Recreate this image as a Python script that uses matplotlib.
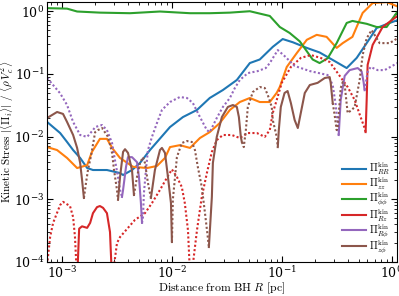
import matplotlib
matplotlib.use("Agg")
import matplotlib.pyplot as plt

plt.rcParams['mathtext.fontset'] = 'cm'
plt.rcParams['font.family'] = 'serif'
plt.rcParams['font.serif'] = ['DejaVu Serif']

# --- data (solid = positive, dotted = negative) ---
R_RR = [7.31e-4, 9.6e-4, 1.11e-3, 1.26e-3, 1.46e-3, 1.69e-3, 1.91e-3, 2.56e-3, 3.37e-3, 3.59e-3, 4.33e-3,
        5.12e-3, 6.31e-3, 9.6e-3, 1.26e-2, 1.69e-2, 2.21e-2, 2.91e-2, 3.9e-2, 5.12e-2, 6.31e-2, 8.28e-2,
        0.102, 0.126, 0.169, 0.221, 0.291, 0.39, 0.481, 0.593, 0.731, 0.96, 1.13]
V_RR = [0.0171, 0.0114, 8.2e-3, 6.1e-3, 4.56e-3, 3.16e-3, 2.93e-3, 2.93e-3, 2.62e-3, 2.44e-3, 2.93e-3,
        3.8e-3, 6.1e-3, 0.0142, 0.0205, 0.0266, 0.0413, 0.0553, 0.08, 0.149, 0.17, 0.27,
        0.36, 0.32, 0.26, 0.22, 0.167, 0.124, 0.18, 0.31, 0.54, 0.65, 0.72]

R_zz = [7.31e-4, 9.0e-4, 1.11e-3, 1.37e-3, 1.69e-3, 1.87e-3, 2.21e-3, 2.56e-3, 2.91e-3, 3.37e-3, 4.42e-3,
        5.93e-3, 7.31e-3, 8.64e-3, 9.6e-3, 1.18e-2, 1.46e-2, 1.8e-2, 2.21e-2, 2.73e-2, 3.37e-2, 4.15e-2,
        5.12e-2, 6.31e-2, 7.78e-2, 9.0e-2, 9.6e-2, 0.111, 0.137, 0.169, 0.208, 0.256, 0.316, 0.359,
        0.44, 0.545, 0.672, 0.901, 1.11]
V_zz = [6.8e-3, 6.1e-3, 4.56e-3, 3.15e-3, 3.5e-3, 5.7e-3, 9.2e-3, 9.2e-3, 6.3e-3, 4.56e-3, 3.3e-3,
        3.15e-3, 3.4e-3, 4.56e-3, 6.8e-3, 7.3e-3, 6.6e-3, 9.5e-3, 0.0118, 0.0165, 0.0266, 0.0356,
        0.0413, 0.0356, 0.0356, 0.05, 0.062, 0.129, 0.215, 0.35, 0.42, 0.39, 0.26, 0.31,
        0.39, 0.94, 1.35, 1.4, 1.21]

R_pp = [7.31e-4, 1.11e-3, 1.37e-3, 2.21e-3, 4.15e-3, 7.78e-3, 1.46e-2, 2.21e-2, 3.37e-2, 5.12e-2, 7.78e-2,
        9.6e-2, 0.118, 0.146, 0.191, 0.221, 0.262, 0.316, 0.39, 0.44, 0.593, 0.731, 0.901, 1.11]
V_pp = [1.12, 1.1, 0.99, 0.95, 0.93, 0.99, 0.93, 0.93, 0.95, 1.0, 0.84,
        0.56, 0.45, 0.33, 0.17, 0.149, 0.178, 0.31, 0.65, 0.70, 0.63, 0.56, 0.56, 0.94]

# R z
R_Rz_n1 = [7.31e-4, 7.78e-4, 8.28e-4, 9.6e-4, 1.02e-3, 1.18e-3, 1.26e-3, 1.31e-3, 1.37e-3]
V_Rz_n1 = [9e-5, 2.5e-4, 4.2e-4, 8.1e-4, 9.1e-4, 7.8e-4, 5.2e-4, 2.5e-4, 5e-5]
R_Rz_p1 = [1.37e-3, 1.43e-3, 1.52e-3, 1.69e-3, 1.80e-3, 1.91e-3, 2.08e-3, 2.21e-3, 2.36e-3, 2.56e-3, 2.73e-3, 2.85e-3]
V_Rz_p1 = [5e-5, 3.4e-4, 3.7e-4, 3.5e-4, 4.2e-4, 6.0e-4, 7.5e-4, 7.8e-4, 7.3e-4, 6.0e-4, 3.0e-4, 5e-5]
R_Rz_n2 = [2.85e-3, 3.16e-3, 3.37e-3, 3.98e-3, 4.61e-3, 5.68e-3, 6.58e-3, 7.78e-3, 9.0e-3, 1.0e-2, 1.11e-2,
           1.23e-2, 1.31e-2, 1.40e-2, 1.47e-2, 1.55e-2, 1.69e-2, 1.87e-2, 2.08e-2, 2.31e-2, 2.56e-2,
           2.91e-2, 3.51e-2, 4.15e-2, 4.91e-2, 5.93e-2, 7.0e-2, 7.78e-2, 8.28e-2, 9.0e-2, 0.1, 0.121,
           0.149, 0.184, 0.226, 0.273, 0.323, 0.398, 0.461, 0.522, 0.568, 0.58]
V_Rz_n2 = [5e-5, 2.0e-4, 2.5e-4, 3.5e-4, 4.7e-4, 6.0e-4, 8.7e-4, 1.41e-3, 2.2e-3, 3.0e-3, 2.27e-3,
           1.57e-3, 8.7e-4, 3.2e-4, 5e-5, 9e-5, 3.2e-4, 1.09e-3, 2.62e-3, 5.7e-3, 8.8e-3,
           0.0106, 0.0106, 9.5e-3, 0.0114, 0.0114, 9.9e-3, 0.0127, 0.0238, 0.0384, 0.072, 0.129,
           0.18, 0.2, 0.18, 0.155, 0.103, 0.0618, 0.0384, 0.0205, 0.0137, 0.0118]
R_Rz_p2 = [0.58, 0.593, 0.605, 0.672, 0.828, 1.13]
V_Rz_p2 = [0.0118, 0.0384, 0.139, 0.29, 0.56, 0.84]

# R phi
R_Rp_n1 = [7.31e-4, 8.28e-4, 9.6e-4, 1.11e-3, 1.26e-3, 1.46e-3, 1.69e-3, 1.91e-3, 2.0e-3, 2.31e-3, 2.56e-3,
           2.85e-3, 3.03e-3, 3.23e-3, 3.37e-3, 3.51e-3]
V_Rp_n1 = [0.086, 0.0665, 0.049, 0.0319, 0.0171, 0.0106, 9.9e-3, 0.0127, 0.0142, 0.0153, 0.0127,
           7.9e-3, 4.2e-3, 2.27e-3, 1.41e-3, 1.09e-3]
R_Rp_p1 = [3.51e-3, 3.59e-3, 3.82e-3, 3.98e-3, 4.33e-3, 4.81e-3, 5.01e-3, 5.22e-3, 5.34e-3]
V_Rp_p1 = [1.09e-3, 1.41e-3, 3.3e-3, 4.7e-3, 4.7e-3, 3.9e-3, 2.27e-3, 8.7e-4, 4.2e-4]
R_Rp_n2 = [5.34e-3, 5.45e-3, 5.56e-3, 5.80e-3, 6.05e-3, 6.58e-3, 7.31e-3, 8.11e-3, 9.6e-3, 1.18e-2, 1.37e-2,
           1.55e-2, 1.8e-2, 2.08e-2, 2.21e-2, 2.56e-2, 2.91e-2, 3.37e-2, 3.74e-2, 4.15e-2, 4.91e-2,
           6.05e-2, 7.15e-2, 7.78e-2, 9.2e-2, 0.106, 0.131, 0.18, 0.262, 0.291, 0.31, 0.323, 0.33]
V_Rp_n2 = [4.2e-4, 5.2e-4, 1.26e-3, 2.93e-3, 6.1e-3, 9.9e-3, 0.0165, 0.0266, 0.0356, 0.0428, 0.0413,
           0.0344, 0.0205, 0.0127, 0.0118, 0.0198, 0.0297, 0.0413, 0.0596, 0.08, 0.103,
           0.111, 0.124, 0.149, 0.24, 0.193, 0.134, 0.111, 0.096, 0.0665, 0.0319, 0.0153, 0.0106]
R_Rp_p2 = [0.33, 0.344, 0.374, 0.415, 0.491, 0.533, 0.556, 0.568]
V_Rp_p2 = [0.0106, 0.0384, 0.093, 0.115, 0.124, 0.11, 0.074, 0.055]
R_Rp_n3 = [0.568, 0.605, 0.644, 0.746, 0.864, 1.13]
V_Rp_n3 = [0.055, 0.107, 0.129, 0.115, 0.115, 0.149]

# z phi
R_zp_p1 = [7.31e-4, 9.0e-4, 1.02e-3, 1.11e-3, 1.26e-3, 1.37e-3, 1.46e-3, 1.52e-3, 1.58e-3]
V_zp_p1 = [0.0198, 0.0247, 0.023, 0.0171, 0.0106, 6.6e-3, 3.8e-3, 2.03e-3, 1.05e-3]
R_zp_n1 = [1.58e-3, 1.65e-3, 1.72e-3, 1.84e-3, 2.0e-3, 2.12e-3, 2.31e-3, 2.62e-3, 2.85e-3, 2.97e-3, 3.16e-3, 3.23e-3]
V_zp_n1 = [1.05e-3, 1.82e-3, 2.93e-3, 5.1e-3, 0.0118, 0.0127, 0.0137, 9.9e-3, 5.5e-3, 2.93e-3, 1.41e-3, 9.8e-4]
R_zp_p2 = [3.23e-3, 3.37e-3, 3.59e-3, 3.74e-3, 3.98e-3, 4.33e-3, 4.51e-3]
V_zp_p2 = [9.8e-4, 2.27e-3, 5.7e-3, 6.3e-3, 5.5e-3, 2.93e-3, 1.17e-3]
R_zp_n2 = [4.51e-3, 4.81e-3, 5.12e-3, 5.45e-3, 5.68e-3, 6.05e-3, 6.44e-3]
V_zp_n2 = [1.17e-3, 2.27e-3, 3.8e-3, 4.7e-3, 3.8e-3, 1.82e-3, 1.05e-3]
R_zp_p3 = [6.44e-3, 7.0e-3, 7.78e-3, 8.11e-3, 8.64e-3, 9.2e-3, 9.8e-3, 1.0e-2]
V_zp_p3 = [1.05e-3, 2.93e-3, 6.1e-3, 6.6e-3, 5.5e-3, 2.27e-3, 8.7e-4, 2.08e-4]
R_zp_n3 = [1.0e-2, 1.02e-2, 1.06e-2, 1.11e-2, 1.23e-2, 1.37e-2, 1.52e-2, 1.62e-2, 1.72e-2, 1.87e-2, 2.0e-2,
           2.12e-2, 2.17e-2]
V_zp_n3 = [2.08e-4, 1.0e-3, 2.0e-3, 4.7e-3, 7.9e-3, 8.5e-3, 8.2e-3, 6.1e-3, 3.3e-3, 1.57e-3, 6.0e-4,
           2.5e-4, 1.73e-4]
R_zp_p4 = [2.17e-2, 2.31e-2, 2.36e-2, 2.56e-2, 2.85e-2, 3.23e-2, 3.59e-2, 3.9e-2, 4.07e-2, 4.24e-2, 4.33e-2]
V_zp_p4 = [1.73e-4, 1.09e-3, 3.8e-3, 9.9e-3, 0.0205, 0.0297, 0.0319, 0.0297, 0.0205, 9.9e-3, 8.2e-3]
R_zp_n4 = [4.33e-2, 4.51e-2, 4.71e-2, 4.91e-2, 5.45e-2, 6.31e-2, 7.0e-2, 7.46e-2, 8.11e-2, 8.28e-2, 9.0e-2, 9.2e-2]
V_zp_n4 = [8.2e-3, 6.8e-3, 0.0127, 0.0297, 0.0514, 0.0618, 0.0596, 0.046, 0.0297, 0.0184, 9.9e-3, 6.8e-3]
R_zp_p5 = [9.2e-2, 9.4e-2, 9.8e-2, 0.106, 0.113, 0.121, 0.131, 0.140, 0.149, 0.162, 0.18, 0.212, 0.246,
           0.273, 0.279, 0.291]
V_zp_p5 = [6.8e-3, 0.0127, 0.0297, 0.0496, 0.0533, 0.0344, 0.0184, 0.0137, 0.0238, 0.0496, 0.0665, 0.072,
           0.086, 0.089, 0.072, 0.0344]
R_zp_n5 = [0.291, 0.303, 0.316, 0.323, 0.344, 0.359, 0.374, 0.398, 0.433, 0.461, 0.512, 0.545, 0.593,
           0.658, 0.778, 0.96, 1.13]
V_zp_n5 = [0.0344, 0.0221, 0.0127, 0.0137, 0.0596, 0.074, 0.0665, 0.0238, 0.0266, 0.0297, 0.08, 0.2, 0.37,
           0.5, 0.31, 0.31, 0.37]

labels = [r'$\Pi^{\rm kin}_{RR}$', r'$\Pi^{\rm kin}_{zz}$', r'$\Pi^{\rm kin}_{\phi\phi}$',
          r'$\Pi^{\rm kin}_{Rz}$', r'$\Pi^{\rm kin}_{R\phi}$', r'$\Pi^{\rm kin}_{z\phi}$']
colors = ['tab:blue', 'tab:orange', 'tab:green', 'tab:red', 'tab:purple', 'tab:brown']

fig = plt.figure(figsize=(3.99, 2.96), dpi=100)
ax = fig.add_axes([0.118, 0.115, 0.877, 0.878])

lw = 1.5
dot = (0, (1, 1.1))

ax.plot(R_RR, V_RR, color=colors[0], lw=lw, label=labels[0])
ax.plot(R_zz, V_zz, color=colors[1], lw=lw, label=labels[1])
ax.plot(R_pp, V_pp, color=colors[2], lw=lw, label=labels[2])

ax.plot(R_Rz_n1, V_Rz_n1, color=colors[3], lw=lw, ls=dot)
ax.plot(R_Rz_p1, V_Rz_p1, color=colors[3], lw=lw, label=labels[3])
ax.plot(R_Rz_n2, V_Rz_n2, color=colors[3], lw=lw, ls=dot)
ax.plot(R_Rz_p2, V_Rz_p2, color=colors[3], lw=lw)

ax.plot(R_Rp_n1, V_Rp_n1, color=colors[4], lw=lw, ls=dot)
ax.plot(R_Rp_p1, V_Rp_p1, color=colors[4], lw=lw, label=labels[4])
ax.plot(R_Rp_n2, V_Rp_n2, color=colors[4], lw=lw, ls=dot)
ax.plot(R_Rp_p2, V_Rp_p2, color=colors[4], lw=lw)
ax.plot(R_Rp_n3, V_Rp_n3, color=colors[4], lw=lw, ls=dot)

ax.plot(R_zp_p1, V_zp_p1, color=colors[5], lw=lw, label=labels[5])
ax.plot(R_zp_n1, V_zp_n1, color=colors[5], lw=lw, ls=dot)
ax.plot(R_zp_p2, V_zp_p2, color=colors[5], lw=lw)
ax.plot(R_zp_n2, V_zp_n2, color=colors[5], lw=lw, ls=dot)
ax.plot(R_zp_p3, V_zp_p3, color=colors[5], lw=lw)
ax.plot(R_zp_n3, V_zp_n3, color=colors[5], lw=lw, ls=dot)
ax.plot(R_zp_p4, V_zp_p4, color=colors[5], lw=lw)
ax.plot(R_zp_n4, V_zp_n4, color=colors[5], lw=lw, ls=dot)
ax.plot(R_zp_p5, V_zp_p5, color=colors[5], lw=lw)
ax.plot(R_zp_n5, V_zp_n5, color=colors[5], lw=lw, ls=dot)

ax.set_xscale('log')
ax.set_yscale('log')
ax.set_xlim(7.3e-4, 1.12)
ax.set_ylim(1e-4, 1.4)
ax.tick_params(which='both', direction='in', top=True, right=True, labelsize=9, pad=2)
ax.tick_params(which='major', length=4)
ax.tick_params(which='minor', length=2)

ax.set_xlabel(r'$\mathrm{Distance\ from\ BH}\ R\ \mathrm{[pc]}$', fontsize=8.5, labelpad=0)
ax.set_ylabel(r'$\mathrm{Kinetic\ Stress}\ |\langle\mathbf{\Pi}_i\rangle|\ /\ \langle\rho\,V_c^2\rangle$',
              fontsize=8)
ax.yaxis.set_label_coords(-0.09, 0.5)

ax.legend(loc='lower right', frameon=False, fontsize=7.5, handlelength=2.3,
          labelspacing=-0.1, handletextpad=0.3, borderaxespad=0.3, borderpad=0.3)

fig.savefig('out.png', dpi=100)
